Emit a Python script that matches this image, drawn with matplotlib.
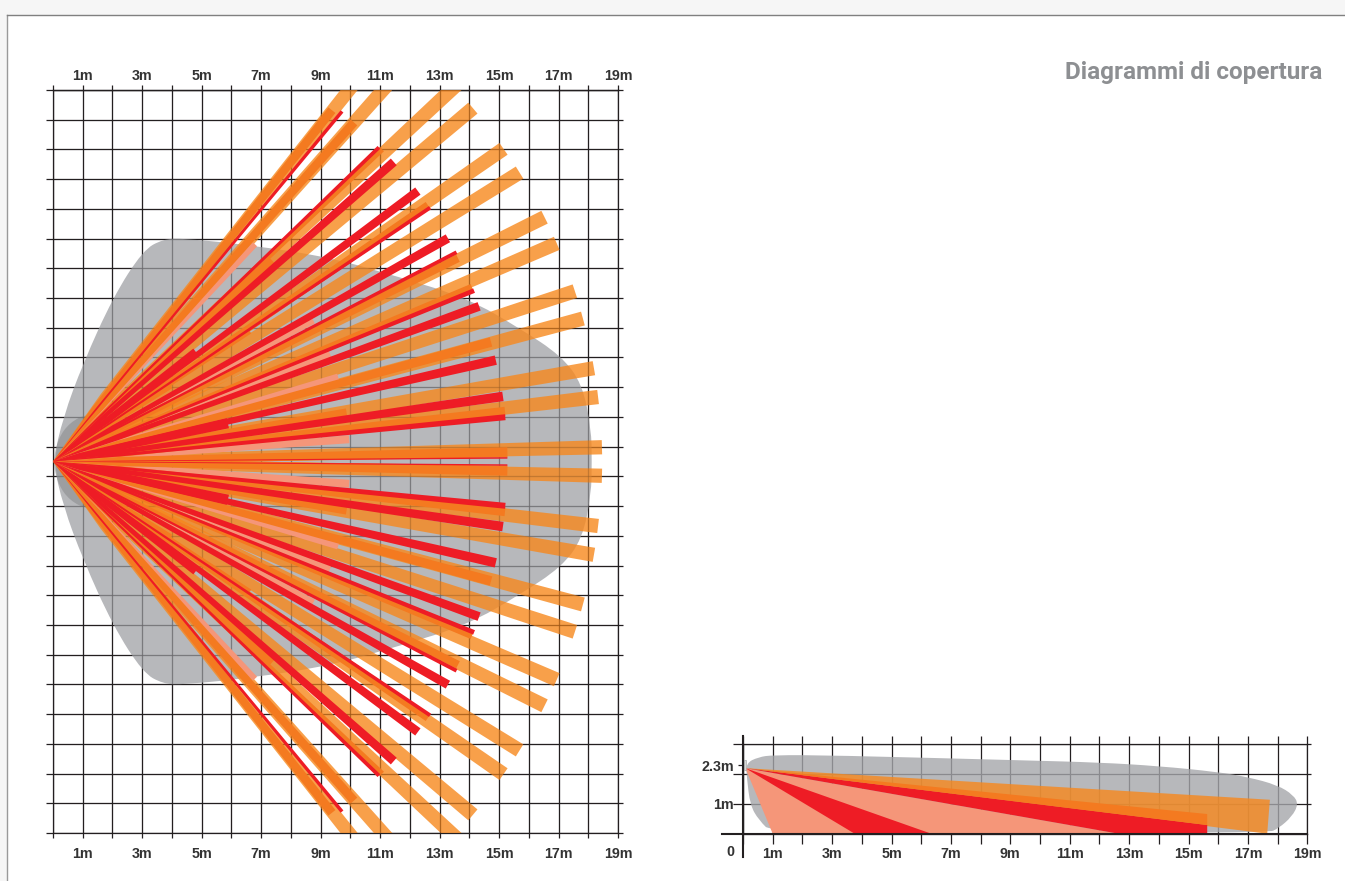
import matplotlib
matplotlib.use("Agg")
import matplotlib.pyplot as plt
from matplotlib.lines import Line2D
from matplotlib.patches import PathPatch, Polygon, Rectangle
from matplotlib.path import Path
import numpy as np

W, H = 1345, 881

# top view, all in metres, upper half only (lower half is the mirror image)
far_x = [11.50, 12.27, 13.60, 14.12, 15.15, 15.69, 16.53, 16.94, 17.55, 17.82, 18.19, 18.33, 18.46]
far_y = [14.44, 13.82, 12.70, 11.89, 10.52, 9.72, 8.22, 7.34, 5.73, 4.81, 3.14, 2.17, 0.48]
far_w = [0.48] * 13

mid_x = [9.38, 10.12, 11.06, 7.36, 12.61, 13.62, 14.09, 14.73, 15.20, 15.28, 9.87, 6.62, 3.99]
mid_y = [11.82, 11.41, 10.51, 6.77, 8.62, 6.84, 5.86, 4.02, 1.69, 0.31, 1.66, 4.38, 2.51]
mid_w = [0.30, 0.30, 0.20, 0.27, 0.27, 0.27, 0.24, 0.32, 0.30, 0.34, 0.25, 0.17, 0.10]

near_x = [6.79, 8.75, 9.31, 9.59, 9.96, 3.03]
near_y = [7.31, 4.75, 3.63, 2.84, 0.75, 0.16]
near_w = [0.20, 0.24, 0.24, 0.24, 0.27, 0.17]

red_x = [9.72, 10.96, 11.46, 12.27, 12.68, 13.28, 13.57, 14.16, 14.33, 14.89, 15.13, 15.21, 15.28, 5.88, 4.81]
red_y = [11.78, 10.57, 10.08, 9.10, 8.54, 7.51, 7.04, 5.75, 5.22, 3.41, 2.19, 1.49, 0.12, 1.29, 3.68]
red_w = [0.12, 0.13, 0.30, 0.30, 0.13, 0.30, 0.13, 0.16, 0.30, 0.32, 0.32, 0.20, 0.05, 0.35, 0.30]

zone_x = [0, 0.34, 1.01, 2.02, 3.03, 3.70, 4.37, 6.73, 9.31, 11.67, 13.95, 15.70, 17.10, 17.80, 18.10, 18.12]
zone_y = [0, 1.49, 3.30, 5.53, 7.11, 7.48, 7.51, 7.27, 6.87, 6.20, 5.49, 4.48, 3.55, 2.60, 1.10, 0]

blob_x = [0, 0.17, 0.57, 1.18, 1.90, 2.20]
blob_y = [0, 0.77, 1.32, 1.62, 1.40, 0]

# side view, metres
side_apex = (0.08, 2.2)
side_zone_x = [0.10, 0.52, 1, 3, 9.5, 12, 14, 16, 17, 18, 18.53, 18.70, 18.48, 18.03, 17.67, 1, 0.53, 0.24, 0.13]
side_zone_y = [2.37, 2.57, 2.64, 2.63, 2.46, 2.39, 2.27, 2.07, 1.90, 1.63, 1.30, 0.99, 0.57, 0.18, 0.02, 0, 0.46, 0.96, 1.88]
side_far = [(17.65, 0), (17.74, 1.14)]
side_mid = [(15.63, 0.29), (15.63, 0.66)]
side_red = [(12.65, 0), (15.63, 0), (15.63, 0.29)]
side_red_low = [(3.76, 0), (6.34, 0)]
side_salmon = [(1, 0), (12.65, 0)]

x_meters = list(range(20))
x_labels = [f"{m}m" if m % 2 else "" for m in x_meters]
y_rows = [v - 12.5 for v in range(26)]

GREY = "#A5A6AA"
LIGHT = "#F7881D"
DARK = "#F47A20"
SALMON = "#F59679"
RED = "#EE1C25"
INK = "#231F20"
LABEL = "#333333"
FONT = "Liberation Sans"
LABEL_SIZE = 10.3


def axes_px(fig, left, top, right, bottom):
    return fig.add_axes([left / W, 1 - bottom / H, (right - left) / W, (bottom - top) / H])


def beams(ax, xs, ys, ws, color, zorder, alpha=1.0, neck=0.65):
    # beams open fast near the sensor, then widen slowly up to the end width
    for x, y, w in zip(xs, ys, ws):
        r = np.hypot(x, y)
        nx, ny = -y / r * w / 2, x / r * w / 2
        kx, ky = x * 0.15, y * 0.15
        for sign in (1, -1):
            pts = [
                (0, 0),
                (kx + nx * neck, sign * (ky + ny * neck)),
                (x + nx, sign * (y + ny)),
                (x - nx, sign * (y - ny)),
                (kx - nx * neck, sign * (ky - ny * neck)),
            ]
            ax.add_patch(Polygon(pts, closed=True, fc=color, ec="none", alpha=alpha, zorder=zorder))


def smooth_patch(xs, ys, **kw):
    # closed quadratic spline through the midpoints of the outline
    pts = list(zip(xs, ys))
    verts = [((pts[-1][0] + pts[0][0]) / 2, (pts[-1][1] + pts[0][1]) / 2)]
    codes = [Path.MOVETO]
    for i, p in enumerate(pts):
        q = pts[(i + 1) % len(pts)]
        verts += [p, ((p[0] + q[0]) / 2, (p[1] + q[1]) / 2)]
        codes += [Path.CURVE3, Path.CURVE3]
    return PathPatch(Path(verts, codes), **kw)


def mirrored(xs, ys):
    # outline of the upper half continued through its mirror image
    return xs + xs[-2:0:-1], ys + [-v for v in ys[-2:0:-1]]


def top_view(fig):
    ax = axes_px(fig, 53, 90, 618, 833)
    ax.set_xlim(0, 19)
    ax.set_ylim(-12.5, 12.5)
    ax.patch.set_alpha(0)
    ax.set_axisbelow(True)
    ax.set_xticks(x_meters)
    ax.set_xticklabels(x_labels, fontfamily=FONT, fontweight="bold", fontsize=LABEL_SIZE, color=LABEL)
    ax.set_yticks(y_rows)
    ax.set_yticklabels([])
    ax.tick_params(axis="x", length=3.8, width=0.9, color=INK, pad=6.3)
    ax.tick_params(axis="y", length=5, width=0.9, color=INK, right=True)
    for tick in ax.yaxis.get_major_ticks():
        tick.tick2line.set_markersize(3.6)
    ax.grid(True, color=INK, lw=0.9)
    for s in ax.spines.values():
        s.set_linewidth(0.9)
        s.set_color(INK)

    top = ax.secondary_xaxis("top")
    top.set_xticks(x_meters)
    top.set_xticklabels(x_labels, fontfamily=FONT, fontweight="bold", fontsize=LABEL_SIZE, color=LABEL)
    top.tick_params(length=3.8, width=0.9, color=INK, pad=1.5)
    top.spines["top"].set_linewidth(0.9)

    # grey zone is see-through so the grid shows as darker grey lines
    ax.add_patch(smooth_patch(*mirrored(zone_x, zone_y), fc=GREY, ec="none", alpha=0.8, zorder=2))
    ax.add_patch(smooth_patch(*mirrored(blob_x, blob_y), fc="#88898B", ec="none", alpha=0.55, zorder=2.1))

    beams(ax, far_x, far_y, far_w, LIGHT, 3, alpha=0.8)
    ax.vlines(x_meters, -12.5, 12.5, color=INK, lw=0.9, alpha=0.15, zorder=3.5)
    ax.hlines(y_rows, 0, 19, color=INK, lw=0.9, alpha=0.15, zorder=3.5)
    beams(ax, near_x, near_y, near_w, SALMON, 4)
    beams(ax, mid_x, mid_y, mid_w, DARK, 5)
    beams(ax, red_x, red_y, red_w, RED, 6, neck=0.5)


def side_view(fig):
    ax = axes_px(fig, 743, 744.3, 1307.3, 833.7)
    ax.set_xlim(0, 19)
    ax.set_ylim(0, 3)
    ax.patch.set_alpha(0)
    ax.set_axisbelow(True)
    ax.set_xticks(x_meters)
    ax.set_xticklabels(x_labels, fontfamily=FONT, fontweight="bold", fontsize=LABEL_SIZE, color=LABEL)
    ax.set_yticks([1, 2, 2.3, 3])
    ax.set_yticklabels(["1m", "", "2.3m", ""], fontfamily=FONT, fontweight="bold", fontsize=LABEL_SIZE, color=LABEL)
    ax.tick_params(axis="x", length=7.2, width=0.9, color=INK, pad=2.3, top=True)
    ax.tick_params(axis="y", length=7.2, width=0.9, color=INK, pad=-0.5, right=True)
    for tick in ax.xaxis.get_major_ticks():
        tick.tick2line.set_markersize(5.8)
    for tick, val in zip(ax.yaxis.get_major_ticks(), ax.get_yticks()):
        tick.tick2line.set_markersize(2.7)
        if val == 2.3:
            tick.tick1line.set_markersize(3.6)
            tick.tick2line.set_visible(False)
    ax.grid(True, color=INK, lw=0.9)
    for gl, val in zip(ax.get_ygridlines(), ax.get_yticks()):
        if val == 2.3:
            gl.set_visible(False)
    for s in ax.spines.values():
        s.set_linewidth(0.9)
        s.set_color(INK)

    ax.add_patch(smooth_patch(side_zone_x, side_zone_y, fc=GREY, ec="none", alpha=0.8, zorder=2))
    ax.add_patch(Polygon([side_apex] + side_far, fc=LIGHT, ec="none", alpha=0.8, zorder=3))
    ax.add_patch(Polygon([side_apex] + side_salmon, fc=SALMON, ec="none", zorder=4))
    ax.add_patch(Polygon([side_apex] + side_red, fc=RED, ec="none", zorder=5))
    ax.add_patch(Polygon([side_apex] + side_red_low, fc=RED, ec="none", zorder=5))
    ax.add_patch(Polygon([side_apex] + side_mid, fc=DARK, ec="none", zorder=5))
    ax.add_patch(Rectangle((0.02, 2.15), 0.08, 0.32, fc="#D8D9D6", ec="#9A9A9A", lw=0.4, zorder=6))

    # heavier base line and left axis stick out past the frame
    ax.plot([-0.72, 19], [0, 0], color=INK, lw=1.5, clip_on=False, zorder=7)
    ax.plot([0, 0], [-0.77, 3.27], color=INK, lw=1.5, clip_on=False, zorder=7)
    ax.text(-0.44, -0.63, "0", ha="center", va="center", fontfamily=FONT, fontweight="bold", fontsize=LABEL_SIZE, color=LABEL)


def main():
    fig = plt.figure(figsize=(W / 100, H / 100), dpi=100, facecolor="#F6F6F6")
    page = Rectangle((7 / W, 0), 1 - 7 / W, 1 - 15 / H, transform=fig.transFigure, fc="white", ec="none", zorder=-2)
    fig.add_artist(page)
    fig.add_artist(Line2D([7 / W, 7 / W], [0, 1 - 14.5 / H], color="#9A9A9A", lw=1.0, zorder=-1))
    fig.add_artist(Line2D([7 / W, 1], [1 - 14.5 / H, 1 - 14.5 / H], color="#808080", lw=1.0, zorder=-1))

    top_view(fig)
    side_view(fig)

    fig.text(1322 / W, 1 - 72.5 / H, "Diagrammi di copertura", ha="right", va="center",
             fontfamily="Roboto", fontweight="bold", fontsize=17.5, color="#8D8F92")
    fig.savefig("out.png", dpi=100, facecolor=fig.get_facecolor())


if __name__ == "__main__":
    main()
